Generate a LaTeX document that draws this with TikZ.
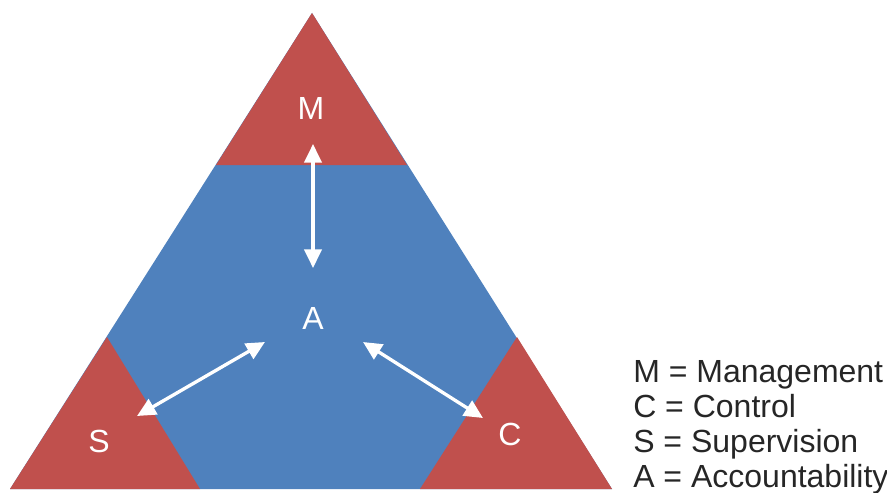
\documentclass[tikz,border=0pt]{standalone}
\usepackage{fontspec}
\setmainfont{Liberation Sans}
\usetikzlibrary{arrows.meta}
\definecolor{cornerRed}{HTML}{C0504D}
\definecolor{coreBlue}{HTML}{4F81BD}
\definecolor{legendGray}{HTML}{262626}

\begin{document}
\begin{tikzpicture}[x=0.75pt, y=-0.75pt,
  corner/.style={fill=cornerRed},
  lbl/.style={text=white, font=\fontsize{24}{28}\selectfont, inner sep=0pt},
  legend/.style={anchor=base west, text=legendGray, font=\fontsize{24}{28}\selectfont, inner sep=0pt},
  link/.style={{Triangle[width=13pt,length=14pt]}-{Triangle[width=13pt,length=14pt]}, white, line width=2.5pt}]
  \useasboundingbox (0,0) rectangle (887,492);

  % Big triangle and corners
  \fill[coreBlue] (10,489) -- (312,13) -- (612,489) -- cycle;
  \fill[corner] (312,13) -- (407,165) -- (216,165) -- cycle;
  \fill[corner] (10,489) -- (107,337) -- (200,489) -- cycle;
  \fill[corner] (612,489) -- (517,337) -- (420,489) -- cycle;

  \node[lbl] (m) at (311,108) {M};
  \node[lbl] (a) at (313,318) {A};
  \node[lbl] (s) at (99,441) {S};
  \node[lbl] (c) at (510,434) {C};

  % Arrow ends
  \coordinate (mend) at (313,144);
  \coordinate (aup) at (313,268);
  \coordinate (send) at (137,416);
  \coordinate (aleft) at (265,342);
  \coordinate (aright) at (363,342);
  \coordinate (cend) at (483,418);

  \draw[link] (mend) -- (aup);
  \draw[link] (send) -- (aleft);
  \draw[link] (aright) -- (cend);

  % Legend
  \node[legend] (lm) at (633,382) {M = Management};
  \node[legend] (lc) at (633,417) {C = Control};
  \node[legend] (ls) at (633,452) {S = Supervision};
  \node[legend] (la) at (633,487) {A = Accountability};
\end{tikzpicture}
\end{document}
